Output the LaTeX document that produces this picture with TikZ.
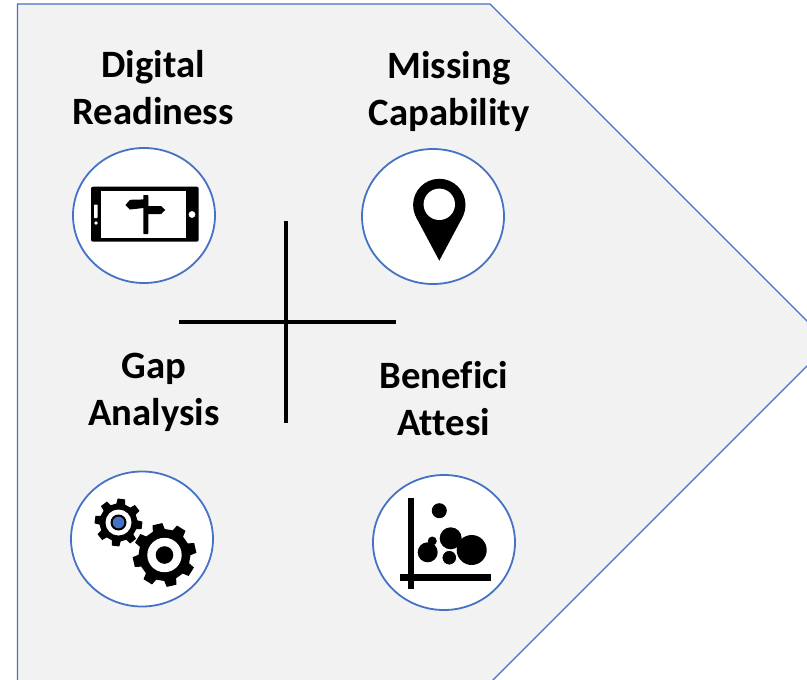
\documentclass[tikz,border=0pt]{standalone}
\usepackage{fontspec}
\usetikzlibrary{shapes.geometric}
\setmainfont[Ligatures=NoCommon]{Carlito}
\definecolor{panelgrey}{HTML}{F2F2F2}
\definecolor{accentblue}{HTML}{4472C4}
\tikzset{
  x=1pt,y=-1pt,
  panel/.style={fill=panelgrey,draw=accentblue,line width=1.4pt},
  iconring/.style={ellipse,draw=accentblue,fill=white,line width=1.8pt,inner sep=0pt,minimum width=142pt,minimum height=135pt},
  lab/.style={font=\fontsize{38.7}{47}\selectfont\bfseries,align=center,text=black,inner sep=0pt},
  crossbar/.style={draw=black,line width=3.5pt},
}
\newcommand{\cogwheel}[6]{% cx cy outer root teeth rotation
  \pgfmathsetmacro{\stepang}{360/#5}
  \path[fill=black] ({#1+#4*cos(#6-0.30*\stepang)},{#2+#4*sin(#6-0.30*\stepang)})
  \foreach \k in {1,...,#5}{
    -- ({#1+#4*cos(#6+(\k-1)*\stepang-0.30*\stepang)},{#2+#4*sin(#6+(\k-1)*\stepang-0.30*\stepang)})
    -- ({#1+#3*cos(#6+(\k-1)*\stepang-0.20*\stepang)},{#2+#3*sin(#6+(\k-1)*\stepang-0.20*\stepang)})
    -- ({#1+#3*cos(#6+(\k-1)*\stepang+0.20*\stepang)},{#2+#3*sin(#6+(\k-1)*\stepang+0.20*\stepang)})
    -- ({#1+#4*cos(#6+(\k-1)*\stepang+0.30*\stepang)},{#2+#4*sin(#6+(\k-1)*\stepang+0.30*\stepang)})
  } -- cycle;
}
\begin{document}
\begin{tikzpicture}
\useasboundingbox (0,0) rectangle (807,680);
\fill[white] (0,0) rectangle (807,680);
\draw[panel] (17.5,4) -- (17.5,690) -- (483,690) -- (829.5,343.5) -- (490,4) -- cycle;

\node[lab] (t1) at (153,88) {Digital\\Readiness};
\node[lab] (t2) at (449,91) {Missing\\Capability};
\node[lab] (t3) at (154,392) {Gap\\Analysis};
\node[lab] (t4) at (444,398.5) {Benefici\\Attesi};

\node[iconring] (c1) at (144,215.5) {};
\node[iconring] (c2) at (433,216.5) {};
\node[iconring] (c3) at (142,539) {};
\node[iconring] (c4) at (444,542.5) {};

\coordinate (vt) at (286,221);
\coordinate (vb) at (286,423);
\coordinate (hl) at (179,322);
\coordinate (hr) at (396,322);
\draw[crossbar] (vt) -- (vb);
\draw[crossbar] (hl) -- (hr);

% phone
\fill[black,rounded corners=2pt] (91,186.7) rectangle (198.7,241.7);
\fill[white] (101,190.7) rectangle (185.7,238.3);
\fill[white,rounded corners=0.7pt] (94,204.5) rectangle (97.5,218);
\fill[white] (96,223) circle (1.8);
\fill[white] (192,214.5) circle (3.4);
\fill[black,rounded corners=0.6pt] (143.3,195) rectangle (148.3,234);
\fill[black] (125.5,205) -- (130,199.8) -- (148,199.3) -- (148,207.5) -- (130,209.5) -- cycle;
\fill[black] (146,206) -- (161,206) -- (165.3,210) -- (161,214) -- (146,214) -- cycle;

% pin
\fill[black] (439.3,205) circle (26.2);
\fill[black] (416,217) -- (439.3,260.7) -- (462.6,217) -- cycle;
\fill[white] (439.3,204.3) circle (15.7);

% gears
\cogwheel{118.5}{522.5}{24}{19}{8}{7}
\fill[white] (118.5,522.5) circle (13);
\fill[black] (118.5,522.5) circle (8);
\fill[accentblue] (118.5,522.5) circle (5.8);
\cogwheel{164.5}{555}{32}{26}{8}{-13}
\fill[white] (164.5,555) circle (17.2);
\fill[black] (164.5,555) circle (8.8);

% chart
\fill[black] (408,498) rectangle (414.3,589);
\fill[black] (400,574.3) rectangle (491,580.7);
\fill[black] (439.3,510.7) circle (7.5);
\fill[black] (471.7,550) circle (15);
\fill[black] (450.7,538.3) circle (11);
\fill[black] (427.7,552.3) circle (10);
\fill[black] (432.3,541) circle (4.5);
\fill[black,draw=white,line width=0.8pt] (449.3,557.7) circle (7.3);
\end{tikzpicture}
\end{document}
